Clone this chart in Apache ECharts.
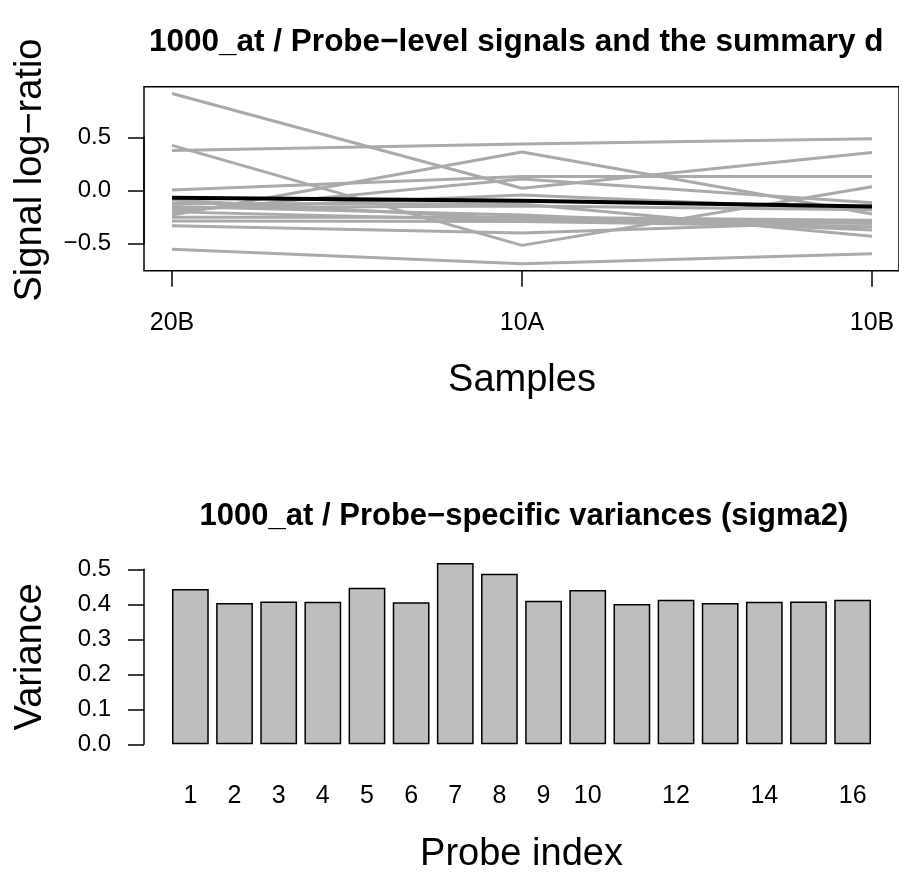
<!DOCTYPE html>
<html><head><meta charset="utf-8">
<script src="https://cdn.jsdelivr.net/npm/echarts@6/dist/echarts.min.js"></script>
<style>html,body{margin:0;padding:0;background:#fff}#c{width:899px;height:875px}</style>
</head><body><div id="c"></div>
<script>
// ---- data ----
const samples = ['20B', '10A', '10B'];
const probeSignals = [
  [0.917, 0.023, 0.360],
  [0.427, -0.516, 0.038],
  [0.380, 0.440, 0.490],
  [-0.230, 0.365, -0.220],
  [0.007, 0.133, 0.133],
  [-0.200, 0.110, -0.114],
  [-0.553, -0.690, -0.595],
  [-0.330, -0.400, -0.290],
  [-0.285, -0.290, -0.340],
  [-0.150, -0.230, -0.370],
  [-0.120, -0.126, -0.430],
  [-0.088, -0.270, -0.300],
  [-0.180, -0.040, -0.180],
  [-0.250, -0.250, -0.280],
  [-0.160, -0.145, -0.180],
  [-0.200, -0.280, -0.310]
];
const summarySignal = [-0.066, -0.094, -0.150];
const probeIndex = ['1','2','3','4','5','6','7','8','9','10','11','12','13','14','15','16'];
const variances = [0.444, 0.404, 0.408, 0.407, 0.447, 0.406, 0.518, 0.487, 0.410, 0.441, 0.401, 0.413, 0.404, 0.407, 0.408, 0.413];
const shownProbeLabels = ['1','2','3','4','5','6','7','8','9','10','12','14','16'];

const FONT = '"Liberation Sans", Arial, Helvetica, sans-serif';
const fmt = v => (v < 0 ? '\u2212' : '') + Math.abs(v).toFixed(1);

const series = probeSignals.map((vals, i) => ({
  type: 'line', xAxisIndex: 1, yAxisIndex: 1, data: vals, symbol: 'none',
  lineStyle: { color: '#aaaaaa', width: 3 }, silent: true, z: 2
}));
series.push({
  type: 'line', xAxisIndex: 1, yAxisIndex: 1, data: summarySignal, symbol: 'none',
  lineStyle: { color: '#000000', width: 4 }, silent: true, z: 3
});
series.push({
  type: 'bar', xAxisIndex: 3, yAxisIndex: 3, data: variances, barCategoryGap: '16.7%',
  itemStyle: { color: '#bebebe', borderColor: '#000', borderWidth: 1.5 }, silent: true
});

const tickStyle = { show: true, inside: false, length: 16, lineStyle: { color: '#000', width: 1.5 } };
const lblStyle = { color: '#000', fontSize: 24, fontFamily: FONT };
const xLblStyle = { color: '#000', fontSize: 25, fontFamily: FONT };
const nameStyle = { color: '#000', fontSize: 38, fontFamily: FONT };

const option = {
  animation: false,
  backgroundColor: '#fff',
  title: [
    { text: '1000_at / Probe\u2212level signals and the summary d', left: 144, top: 21,
      textStyle: { fontSize: 31.5, fontWeight: 'bold', fontFamily: FONT, color: '#000' } },
    { text: '1000_at / Probe\u2212specific variances (sigma2)', left: 519, top: 496, textAlign: 'center',
      textStyle: { fontSize: 31, fontWeight: 'bold', fontFamily: FONT, color: '#000' } }
  ],
  grid: [
    { left: 144, top: 86.7, width: 756, height: 184, show: true, borderColor: '#000', borderWidth: 1.5, backgroundColor: 'transparent' },
    { left: 172, top: 86.7, width: 700, height: 184 },
    { left: 144, top: 137.3, width: 700, height: 106 },
    { left: 168.3, top: 551.8, width: 706.4, height: 192.5 },
    { left: 144, top: 569.3, width: 704, height: 175 },
    { left: 144, top: 78, width: 700, height: 184 }
  ],
  xAxis: [
    { gridIndex: 0, type: 'value', show: false },
    { gridIndex: 1, type: 'category', data: samples, boundaryGap: false,
      axisLine: { show: false, onZero: false }, axisTick: tickStyle, splitLine: { show: false },
      axisLabel: Object.assign({ margin: 40 }, xLblStyle),
      name: 'Samples', nameLocation: 'middle', nameGap: 91, nameTextStyle: nameStyle },
    { gridIndex: 2, type: 'value', show: false },
    { gridIndex: 3, type: 'category', data: probeIndex,
      axisLine: { show: false, onZero: false }, axisTick: { show: false }, splitLine: { show: false },
      axisLabel: Object.assign({ margin: 39, interval: (i, v) => shownProbeLabels.includes(v) }, xLblStyle),
      name: 'Probe index', nameLocation: 'middle', nameGap: 91, nameTextStyle: nameStyle },
    { gridIndex: 4, type: 'value', show: false },
    { gridIndex: 5, type: 'value', show: false }
  ],
  yAxis: [
    { gridIndex: 0, type: 'value', min: -0.755, max: 0.981, show: false },
    { gridIndex: 1, type: 'value', min: -0.755, max: 0.981, show: false, splitLine: { show: false } },
    { gridIndex: 2, type: 'value', min: -0.5, max: 0.5, interval: 0.5,
      axisLine: { show: true, lineStyle: { color: '#000', width: 1.5 } }, axisTick: tickStyle, splitLine: { show: false },
      axisLabel: Object.assign({ margin: 33, formatter: fmt }, lblStyle) },
    { gridIndex: 3, type: 'value', min: 0, max: 0.55, show: false, splitLine: { show: false } },
    { gridIndex: 4, type: 'value', min: 0, max: 0.5, interval: 0.1,
      axisLine: { show: true, lineStyle: { color: '#000', width: 1.5 } }, axisTick: tickStyle, splitLine: { show: false },
      axisLabel: Object.assign({ margin: 33, formatter: fmt }, lblStyle),
      name: 'Variance', nameLocation: 'middle', nameGap: 94, nameTextStyle: nameStyle },
    { gridIndex: 5, type: 'value', min: 0, max: 1,
      axisLine: { show: false }, axisTick: { show: false }, axisLabel: { show: false }, splitLine: { show: false },
      name: 'Signal log\u2212ratio', nameLocation: 'middle', nameGap: 94, nameTextStyle: nameStyle }
  ],
  series: series
};
const chart = echarts.init(document.getElementById('c'));
chart.setOption(option);
</script>
</body></html>
